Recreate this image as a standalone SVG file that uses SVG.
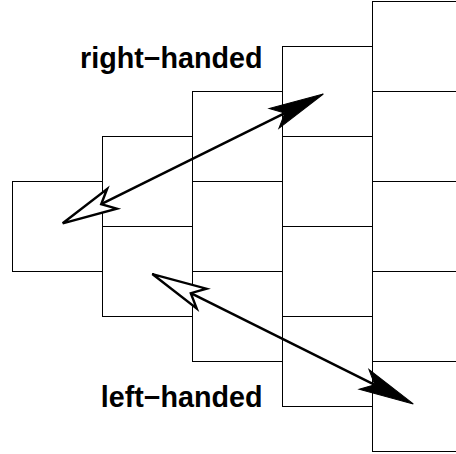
<svg xmlns="http://www.w3.org/2000/svg" width="456" height="454" viewBox="0 0 456 454">
<style>
.cell{fill:none;stroke:#000;stroke-width:1}
.shaft{fill:none;stroke:#000;stroke-width:2.5}
.lbl{font-family:"Liberation Sans",Arial,sans-serif;font-weight:bold;font-size:28.7px;fill:#000}
</style>
<defs>
<marker id="headFilled" markerUnits="userSpaceOnUse" orient="auto" overflow="visible" refX="0" refY="0" markerWidth="60" markerHeight="30">
<path d="M43,0 L-12,-11 L0,0 L-12,11 Z" fill="#000" stroke="#000" stroke-width="1" stroke-linejoin="miter"/>
</marker>
<marker id="headOpen" markerUnits="userSpaceOnUse" orient="auto-start-reverse" overflow="visible" refX="0" refY="0" markerWidth="60" markerHeight="30">
<path d="M43,0 L-12,-11 L0,0 L-12,11 Z" fill="#fff" stroke="#000" stroke-width="2.4" stroke-linejoin="miter"/>
</marker>
</defs>
<rect width="456" height="454" fill="#fff"/>
<g id="col1">
<g id="c1r1"><rect class="cell" x="12.5" y="181.5" width="90" height="90"/></g>
</g>
<g id="col2">
<g id="c2r1"><rect class="cell" x="102.5" y="136.5" width="90" height="90"/></g>
<g id="c2r2"><rect class="cell" x="102.5" y="226.5" width="90" height="90"/></g>
</g>
<g id="col3">
<g id="c3r1"><rect class="cell" x="192.5" y="91.5" width="90" height="90"/></g>
<g id="c3r2"><rect class="cell" x="192.5" y="181.5" width="90" height="90"/></g>
<g id="c3r3"><rect class="cell" x="192.5" y="271.5" width="90" height="90"/></g>
</g>
<g id="col4">
<g id="c4r1"><rect class="cell" x="282.5" y="46.5" width="90" height="90"/></g>
<g id="c4r2"><rect class="cell" x="282.5" y="136.5" width="90" height="90"/></g>
<g id="c4r3"><rect class="cell" x="282.5" y="226.5" width="90" height="90"/></g>
<g id="c4r4"><rect class="cell" x="282.5" y="316.5" width="90" height="90"/></g>
</g>
<g id="col5">
<g id="c5r1"><rect class="cell" x="372.5" y="1.5" width="90" height="90"/></g>
<g id="c5r2"><rect class="cell" x="372.5" y="91.5" width="90" height="90"/></g>
<g id="c5r3"><rect class="cell" x="372.5" y="181.5" width="90" height="90"/></g>
<g id="c5r4"><rect class="cell" x="372.5" y="271.5" width="90" height="90"/></g>
<g id="c5r5"><rect class="cell" x="372.5" y="361.5" width="90" height="90"/></g>
</g>
<g id="connectors">
<path id="rightHanded" class="shaft" d="M101.2,204.2 L284.8,113.1" marker-start="url(#headOpen)" marker-end="url(#headFilled)"/>
<path id="leftHanded" class="shaft" d="M190.8,293.2 L374.8,384.8" marker-start="url(#headOpen)" marker-end="url(#headFilled)"/>
</g>
<g id="labels">
<text class="lbl" x="262.5" y="68" text-anchor="end">right−handed</text>
<text class="lbl" x="262.5" y="407" text-anchor="end">left−handed</text>
</g>
</svg>
